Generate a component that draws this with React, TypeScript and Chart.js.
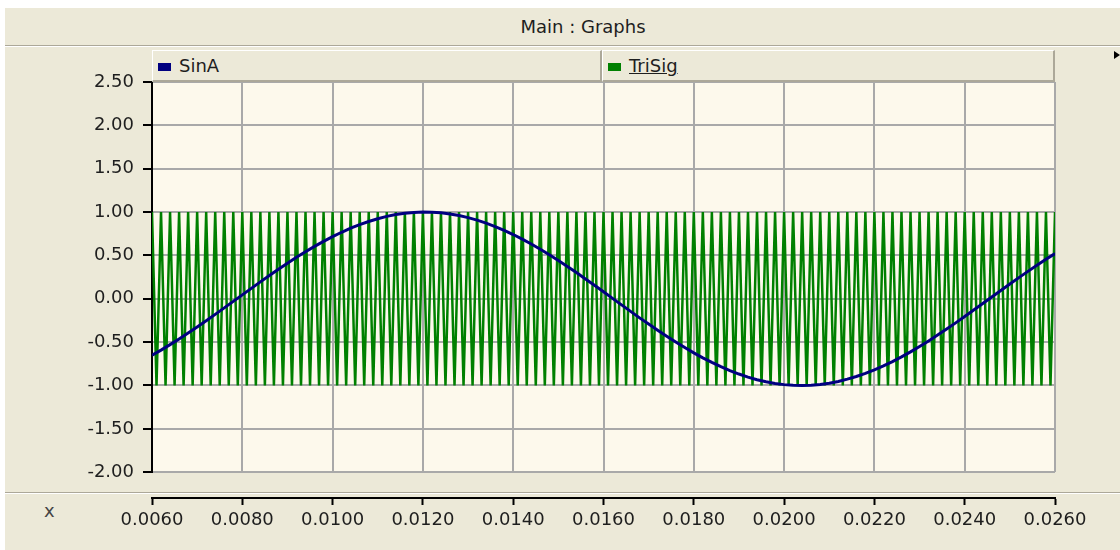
import React, { useEffect, useRef } from "react";
import { Chart, registerables } from "chart.js";

Chart.register(...registerables);

const TITLE = "Main : Graphs";
const X_AXIS_NAME = "x";
const SERIES_NAMES = ["SinA", "TriSig"];
const SERIES_COLORS = ["#000080", "#008000"];

const X_MIN = 0.006;
const X_MAX = 0.026;
const X_STEP = 0.002;
const Y_MIN = -2;
const Y_MAX = 2.5;
const Y_STEP = 0.5;

// SinA samples, every 0.0002 s from 0.006 s
const SIN_START = 0.006;
const SIN_STEP = 0.0002;
const SIN_A = [
  -0.651, -0.592, -0.529, -0.464, -0.396, -0.326, -0.254, -0.180, -0.105, -0.030,
  0.045, 0.120, 0.195, 0.268, 0.340, 0.410, 0.478, 0.542, 0.604, 0.662,
  0.717, 0.767, 0.814, 0.855, 0.891, 0.923, 0.950, 0.971, 0.986, 0.996,
  1.000, 0.998, 0.991, 0.978, 0.960, 0.936, 0.907, 0.873, 0.833, 0.789,
  0.741, 0.688, 0.632, 0.571, 0.508, 0.442, 0.373, 0.302, 0.229, 0.155,
  0.080, 0.005, -0.070, -0.145, -0.220, -0.292, -0.364, -0.433, -0.499, -0.563,
  -0.624, -0.681, -0.734, -0.783, -0.828, -0.868, -0.903, -0.933, -0.957, -0.976,
  -0.990, -0.998, -1.000, -0.997, -0.988, -0.973, -0.953, -0.927, -0.896, -0.860,
  -0.819, -0.774, -0.724, -0.670, -0.612, -0.550, -0.486, -0.419, -0.349, -0.278,
  -0.204, -0.130, -0.055, 0.020, 0.096, 0.170, 0.244, 0.316, 0.387, 0.455,
  0.521,
];

// TriSig turning points (5 kHz triangle), one every 0.0001 s from 0.006 s
const TRI_START = 0.006;
const TRI_STEP = 0.0001;
const TRI_SIG = [
  1, -1, 1, -1, 1, -1, 1, -1, 1, -1, 1, -1, 1, -1, 1, -1, 1, -1, 1, -1,
  1, -1, 1, -1, 1, -1, 1, -1, 1, -1, 1, -1, 1, -1, 1, -1, 1, -1, 1, -1,
  1, -1, 1, -1, 1, -1, 1, -1, 1, -1, 1, -1, 1, -1, 1, -1, 1, -1, 1, -1,
  1, -1, 1, -1, 1, -1, 1, -1, 1, -1, 1, -1, 1, -1, 1, -1, 1, -1, 1, -1,
  1, -1, 1, -1, 1, -1, 1, -1, 1, -1, 1, -1, 1, -1, 1, -1, 1, -1, 1, -1,
  1, -1, 1, -1, 1, -1, 1, -1, 1, -1, 1, -1, 1, -1, 1, -1, 1, -1, 1, -1,
  1, -1, 1, -1, 1, -1, 1, -1, 1, -1, 1, -1, 1, -1, 1, -1, 1, -1, 1, -1,
  1, -1, 1, -1, 1, -1, 1, -1, 1, -1, 1, -1, 1, -1, 1, -1, 1, -1, 1, -1,
  1, -1, 1, -1, 1, -1, 1, -1, 1, -1, 1, -1, 1, -1, 1, -1, 1, -1, 1, -1,
  1, -1, 1, -1, 1, -1, 1, -1, 1, -1, 1, -1, 1, -1, 1, -1, 1, -1, 1, -1,
  1,
];

const FONT = '"DejaVu Sans", "Liberation Sans", sans-serif';
const BEIGE = "#ECE9D8";
const CREAM = "#FDF9EC";
const GRID = "#A9A9A9";
const ETCH_DARK = "#ACA899";
const TEXT = "#1e1e1e";

const plotBg = {
  id: "plotBg",
  beforeDraw(chart: any) {
    const { ctx, chartArea } = chart;
    if (!chartArea) return;
    ctx.save();
    ctx.fillStyle = CREAM;
    ctx.fillRect(chartArea.left, chartArea.top, chartArea.right - chartArea.left, chartArea.bottom - chartArea.top);
    ctx.restore();
  },
};

export default function App() {
  const mainRef = useRef<HTMLCanvasElement>(null);
  const axisRef = useRef<HTMLCanvasElement>(null);

  useEffect(() => {
    const sinData = SIN_A.map((v, i) => ({ x: SIN_START + i * SIN_STEP, y: v }));
    const triData = TRI_SIG.map((v, i) => ({ x: TRI_START + i * TRI_STEP, y: v }));

    const main = new Chart(mainRef.current as HTMLCanvasElement, {
      type: "line",
      data: {
        datasets: [
          {
            label: SERIES_NAMES[0],
            data: sinData,
            borderColor: SERIES_COLORS[0],
            borderWidth: 3,
            pointRadius: 0,
            order: 0,
          },
          {
            label: SERIES_NAMES[1],
            data: triData,
            borderColor: SERIES_COLORS[1],
            borderWidth: 2.5,
            borderJoinStyle: "bevel",
            pointRadius: 0,
            order: 1,
          },
        ],
      },
      options: {
        animation: false,
        responsive: false,
        devicePixelRatio: 1,
        layout: { padding: { left: 0, right: 65, top: 20, bottom: 15 } },
        plugins: { legend: { display: false }, tooltip: { enabled: false }, title: { display: false } },
        scales: {
          x: {
            type: "linear",
            min: X_MIN,
            max: X_MAX,
            ticks: { display: false, stepSize: X_STEP },
            grid: { color: GRID, lineWidth: 2, drawTicks: false },
            border: { display: false },
            afterFit: (s: any) => {
              s.height = 0;
            },
          },
          y: {
            type: "linear",
            min: Y_MIN,
            max: Y_MAX,
            ticks: {
              stepSize: Y_STEP,
              padding: 9,
              color: TEXT,
              font: { family: FONT, size: 18 },
              callback: (v: any) => Number(v).toFixed(2),
            },
            grid: { color: GRID, lineWidth: 2, tickLength: 9, tickColor: "#000", tickWidth: 2 },
            border: { color: "#000", width: 2 },
            afterFit: (s: any) => {
              s.width = 152;
            },
          },
        },
      } as any,
      plugins: [plotBg],
    });

    const axis = new Chart(axisRef.current as HTMLCanvasElement, {
      type: "line",
      data: { datasets: [] },
      options: {
        animation: false,
        responsive: false,
        devicePixelRatio: 1,
        layout: { padding: { left: 152, right: 65, top: 0, bottom: 0 } },
        plugins: { legend: { display: false }, tooltip: { enabled: false } },
        scales: {
          x: {
            type: "linear",
            position: "bottom",
            min: X_MIN,
            max: X_MAX,
            ticks: {
              stepSize: X_STEP,
              autoSkip: false,
              maxRotation: 0,
              padding: 5,
              color: TEXT,
              font: { family: FONT, size: 18 },
              callback: (v: any) => Number(v).toFixed(4),
            },
            grid: { drawOnChartArea: false, tickLength: 7, tickColor: "#000", tickWidth: 2, color: "#000" },
            border: { display: true, color: "#000", width: 2 },
            afterFit: (s: any) => {
              s.height = 52;
            },
          },
          y: { display: false, min: 0, max: 1 },
        },
      } as any,
    });

    return () => {
      main.destroy();
      axis.destroy();
    };
  }, []);

  const cellStyle = (left: number, width: number): React.CSSProperties => ({
    position: "absolute",
    left,
    top: 50,
    width,
    height: 32,
    boxSizing: "border-box",
    borderTop: "1px solid #fff",
    borderLeft: "1px solid #fff",
    borderBottom: `2px solid ${ETCH_DARK}`,
    borderRight: `2px solid ${ETCH_DARK}`,
    background: BEIGE,
    display: "flex",
    alignItems: "center",
    fontSize: 18,
    fontFamily: FONT,
    color: TEXT,
    zIndex: 2,
  });

  const swatch = (color: string): React.CSSProperties => ({
    display: "inline-block",
    width: 13,
    height: 8,
    background: color,
    marginLeft: 5,
    marginRight: 8,
    marginTop: 3,
  });

  return (
    <div
      style={{
        position: "absolute",
        left: 0,
        top: 0,
        width: 1120,
        height: 550,
        background: "#fff",
        overflow: "hidden",
        fontFamily: FONT,
      }}
    >
      <div style={{ position: "absolute", left: 5, top: 8, right: 0, bottom: 0, background: BEIGE }} />
      <div
        style={{
          position: "absolute",
          left: 0,
          width: 1166,
          top: 8,
          height: 36,
          display: "flex",
          alignItems: "center",
          justifyContent: "center",
          fontSize: 18,
          color: TEXT,
        }}
      >
        {TITLE}
      </div>
      <div style={{ position: "absolute", left: 5, right: 0, top: 45, height: 1, background: ETCH_DARK }} />
      <div style={{ position: "absolute", left: 5, right: 0, top: 46, height: 1, background: "#fff" }} />

      <canvas
        ref={mainRef}
        width={1120}
        height={430}
        style={{ position: "absolute", left: 0, top: 62, zIndex: 1 }}
      />

      <div style={cellStyle(152, 450)}>
        <span style={swatch(SERIES_COLORS[0])} />
        <span>{SERIES_NAMES[0]}</span>
      </div>
      <div style={cellStyle(602, 453)}>
        <span style={swatch(SERIES_COLORS[1])} />
        <span style={{ textDecoration: "underline" }}>{SERIES_NAMES[1]}</span>
      </div>
      <div
        style={{
          position: "absolute",
          left: 1114,
          top: 51,
          width: 0,
          height: 0,
          borderLeft: "6px solid #000",
          borderTop: "4px solid transparent",
          borderBottom: "4px solid transparent",
          zIndex: 2,
        }}
      />

      <div style={{ position: "absolute", left: 5, right: 0, top: 492, height: 1, background: ETCH_DARK }} />
      <div style={{ position: "absolute", left: 5, right: 0, top: 493, height: 1, background: "#fff" }} />

      <div style={{ position: "absolute", left: 44, top: 500, fontSize: 18, color: "#444" }}>{X_AXIS_NAME}</div>

      <canvas
        ref={axisRef}
        width={1120}
        height={57}
        style={{ position: "absolute", left: 0, top: 493, zIndex: 1 }}
      />
    </div>
  );
}
